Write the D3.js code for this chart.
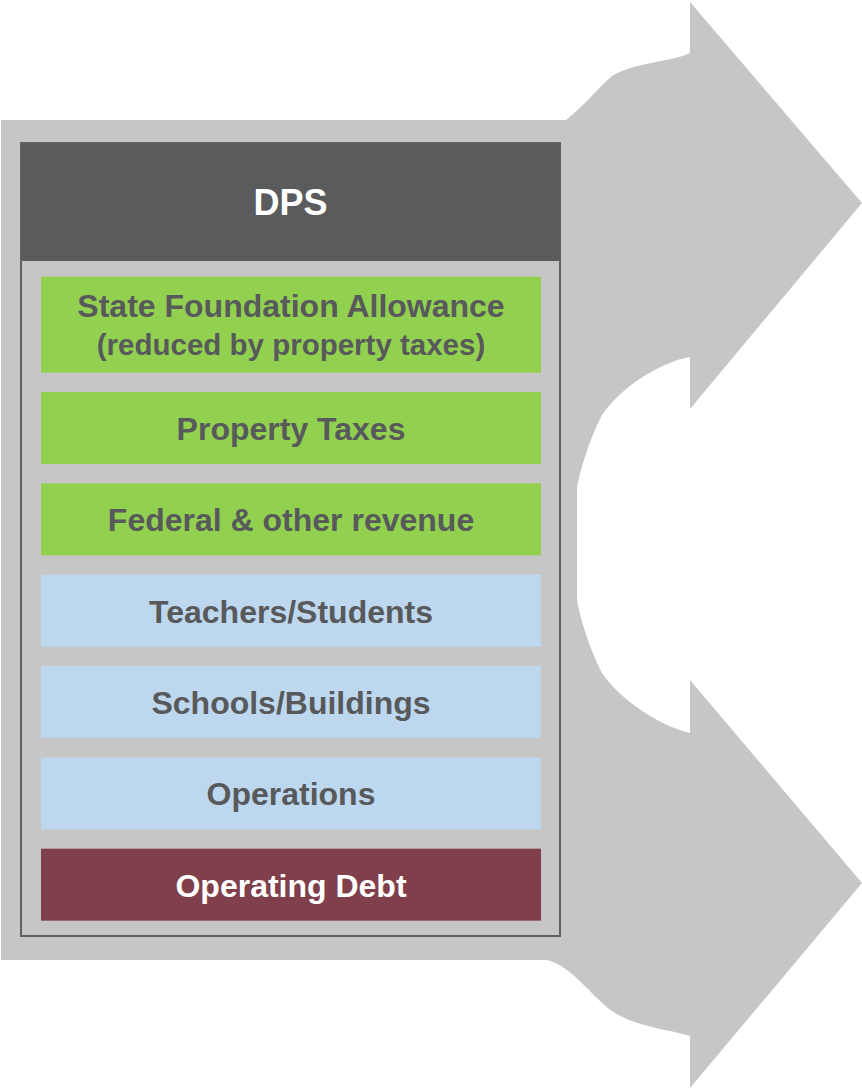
<!DOCTYPE html>
<html>
<head>
<meta charset="utf-8">
<script src="https://cdn.jsdelivr.net/npm/d3@7"></script>
<style>
  html, body { margin: 0; padding: 0; background: #ffffff; }
  svg { display: block; }
</style>
</head>
<body>
<svg id="chart" width="862" height="1089"></svg>
<script>
// ---- data ----
const title = "DPS";
const rowLabels = [
  ["State Foundation Allowance", "(reduced by property taxes)"],
  ["Property Taxes"],
  ["Federal & other revenue"],
  ["Teachers/Students"],
  ["Schools/Buildings"],
  ["Operations"],
  ["Operating Debt"]
];
const rowKinds = ["revenue", "revenue", "revenue", "expense", "expense", "expense", "debt"];

// ---- styles ----
const fillByKind = { revenue: "#92d050", expense: "#bdd7ee", debt: "#7f3f4b" };
const textByKind = { revenue: "#58595b", expense: "#58595b", debt: "#ffffff" };
const fontFamily = "'Liberation Sans', Arial, Helvetica, sans-serif";

const svg = d3.select("#chart");

// ---- background arrow shape ----
const p = d3.path();
p.moveTo(1, 120);
p.lineTo(566, 120);
p.bezierCurveTo(585, 105, 598, 88, 612, 76);
p.bezierCurveTo(635, 62, 672, 62, 690, 53);
p.lineTo(690, 2);
p.lineTo(862, 203);
p.lineTo(690, 409);
p.lineTo(690, 357);
p.bezierCurveTo(660, 362, 620, 388, 602, 415);
p.bezierCurveTo(590, 438, 580, 470, 577, 488);
p.lineTo(577, 600);
p.bezierCurveTo(580, 618, 590, 650, 602, 673);
p.bezierCurveTo(620, 700, 660, 726, 690, 733);
p.lineTo(690, 680);
p.lineTo(862, 883);
p.lineTo(690, 1088);
p.lineTo(690, 1036);
p.bezierCurveTo(672, 1030, 635, 1027, 612, 1011);
p.bezierCurveTo(592, 997, 572, 966, 547, 960);
p.lineTo(1, 960);
p.closePath();
svg.append("path").attr("d", p.toString()).attr("fill", "#c6c6c6");

// ---- box ----
const boxX0 = 21, boxX1 = 560, boxY0 = 143, boxY1 = 936, headerY1 = 261;
svg.append("rect")
  .attr("x", boxX0).attr("y", boxY0)
  .attr("width", boxX1 - boxX0).attr("height", boxY1 - boxY0)
  .attr("fill", "#c6c6c6").attr("stroke", "#626262").attr("stroke-width", 2);
svg.append("rect")
  .attr("x", boxX0).attr("y", boxY0)
  .attr("width", boxX1 - boxX0).attr("height", headerY1 - boxY0)
  .attr("fill", "#5a5b5d");
svg.append("text")
  .attr("x", (boxX0 + boxX1) / 2).attr("y", 215)
  .attr("text-anchor", "middle")
  .attr("font-family", fontFamily).attr("font-weight", "bold")
  .attr("font-size", 36).attr("fill", "#ffffff")
  .text(title);

// ---- rows ----
const x = d3.scaleLinear().domain([0, 1]).range([41, 541]);
const y = d3.scaleBand()
  .domain(d3.range(rowLabels.length))
  .range([300.67, 920.67])
  .paddingInner(0.2117)
  .paddingOuter(0);
const extraLine = 24;

const rows = svg.append("g").selectAll("g")
  .data(rowLabels.map((lines, i) => ({ lines, kind: rowKinds[i], i })))
  .join("g");

rows.append("rect")
  .attr("x", x(0))
  .attr("y", d => y(d.i) - (d.lines.length - 1) * extraLine)
  .attr("width", x(1) - x(0))
  .attr("height", d => y.bandwidth() + (d.lines.length - 1) * extraLine)
  .attr("fill", d => fillByKind[d.kind]);

rows.each(function(d) {
  const g = d3.select(this);
  const top = y(d.i) - (d.lines.length - 1) * extraLine;
  const h = y.bandwidth() + (d.lines.length - 1) * extraLine;
  const cx = (x(0) + x(1)) / 2;
  if (d.lines.length === 1) {
    g.append("text")
      .attr("x", cx).attr("y", top + h / 2 + 12)
      .attr("text-anchor", "middle")
      .attr("font-family", fontFamily).attr("font-weight", "bold")
      .attr("font-size", 32).attr("fill", textByKind[d.kind])
      .text(d.lines[0]);
  } else {
    g.append("text")
      .attr("x", cx).attr("y", top + 40)
      .attr("text-anchor", "middle")
      .attr("font-family", fontFamily).attr("font-weight", "bold")
      .attr("font-size", 32).attr("fill", textByKind[d.kind])
      .text(d.lines[0]);
    g.append("text")
      .attr("x", cx).attr("y", top + 78)
      .attr("text-anchor", "middle")
      .attr("font-family", fontFamily).attr("font-weight", "bold")
      .attr("font-size", 29.5).attr("fill", textByKind[d.kind])
      .text(d.lines[1]);
  }
});
</script>
</body>
</html>
